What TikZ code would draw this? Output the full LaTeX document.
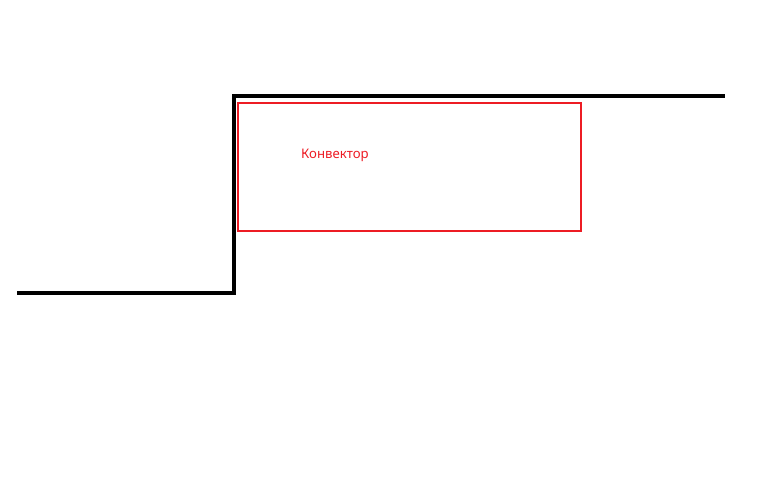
\documentclass[tikz,border=0pt]{standalone}
\usepackage{fontspec}
\setmainfont{Noto Sans}
\usepackage{tikz}
\definecolor{paintred}{RGB}{237,28,36}
\tikzstyle{wall}=[draw=black,line width=4pt,line cap=rect]
\tikzstyle{box}=[draw=paintred,line width=2pt]
\tikzstyle{boxlabel}=[text=paintred,inner sep=0pt,anchor=base west,font=\fontsize{13.2}{15}\selectfont]

\begin{document}
\begin{tikzpicture}[x=1pt,y=-1pt]
    \useasboundingbox (0,0) rectangle (768,480);
    % stepped wall
    \coordinate (floor) at (19,293);
    \coordinate (stepbottom) at (234,293);
    \coordinate (steptop) at (234,95.5);
    \coordinate (ceil) at (723,95.5);
    \draw[wall] (floor) -- (stepbottom) -- (steptop) -- (ceil);
    % convector
    \draw[box] (237.5,102.5) rectangle (580.5,230.5);
    \node[boxlabel] (konvektor) at (301,158) {Конвектор};
\end{tikzpicture}
\end{document}
